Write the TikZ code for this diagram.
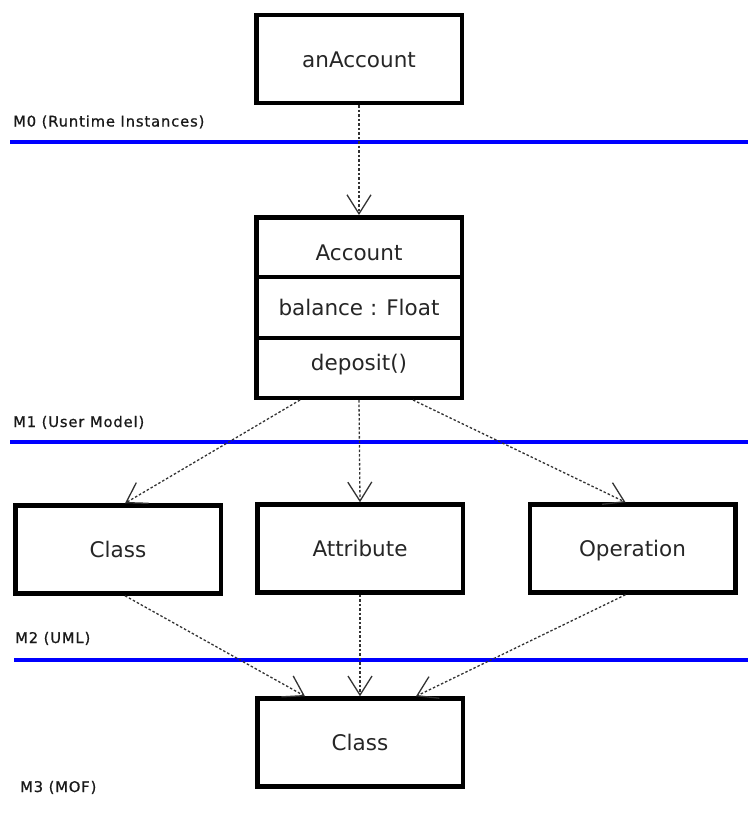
\documentclass[tikz,border=0pt]{standalone}
\usepackage{fontspec}
\setmainfont{DejaVu Sans}
\newfontfamily\lblfont{DejaVu Sans}[LetterSpace=6,FakeBold=0.8]
\usetikzlibrary{arrows.meta,calc}
\definecolor{lvlblue}{RGB}{0,0,255}
\begin{document}
\begin{tikzpicture}[x=1pt,y=-1pt,
  box/.style={draw=black,line width=4.5pt,fill=white,minimum width=205.5pt,minimum height=88pt,inner sep=0pt,text height=16pt,text depth=0pt,text=black!85,font=\fontsize{21.5}{26}\selectfont},
  txt/.style={inner sep=0pt,anchor=base,text=black!85,font=\fontsize{21.5}{26}\selectfont},
  divider/.style={draw=black,line width=4.5pt},
  level/.style={draw=lvlblue,line width=4.5pt},
  lbl/.style={anchor=base west,inner sep=0pt,text=black!90,font=\lblfont\fontsize{14.7}{18}\selectfont},
  inst/.style={draw=black!80,line width=1.3pt,dash pattern=on 2.5pt off 2pt,-{Straight Barb[length=19pt,width=24pt]}}
]
\useasboundingbox (0,0) rectangle (748,814);
\fill[white] (0,0) rectangle (748,814);

% level separators
\coordinate (m0l) at (10,142);  \coordinate (m0r) at (748,142);
\coordinate (m1l) at (10,442);  \coordinate (m1r) at (748,442);
\coordinate (m2l) at (14,660);  \coordinate (m2r) at (748,660);
\draw[level] (m0l) -- (m0r);
\draw[level] (m1l) -- (m1r);
\draw[level] (m2l) -- (m2r);

% level labels
\node[lbl] (l0) at (13,126.5) {M0 (Runtime Instances)};
\node[lbl] (l1) at (13,427) {M1 (User Model)};
\node[lbl] (l2) at (15,643) {M2 (UML)};
\node[lbl] (l3) at (20,792) {M3 (MOF)};

% boxes
\node[box] (inst) at (359,59) {anAccount};
\node[box,minimum height=180.5pt] (account) at (359,307.5) {};
\draw[divider] ([yshift=-62pt]account.north west) -- ([yshift=-62pt]account.north east);
\draw[divider] ([yshift=-123pt]account.north west) -- ([yshift=-123pt]account.north east);
\node[txt] (accname) at (359,260) {Account};
\node[txt] (accattr) at (359,315.5) {balance : Float};
\node[txt] (accop) at (359,370) {deposit()};

\node[box] (cls) at (118,549.5) {Class};
\node[box] (attr) at (360,548.5) {Attribute};
\node[box] (oper) at (632.5,548.5) {Operation};
\node[box] (mof) at (360,742.5) {Class};

% instance-of connectors
\draw[inst] (inst.south) -- (account.north);
\draw[inst] ($(account.south)+(-59,0)$) -- ($(cls.north)+(7,0)$);
\draw[inst] (account.south) -- (attr.north);
\draw[inst] ($(account.south)+(54,0)$) -- ($(oper.north)+(-7,0)$);
\draw[inst] ($(cls.south)+(7,0)$) -- ($(mof.north)+(-55,0)$);
\draw[inst] (attr.south) -- (mof.north);
\draw[inst] ($(oper.south)+(-7,0)$) -- ($(mof.north)+(56,0)$);
\end{tikzpicture}
\end{document}
